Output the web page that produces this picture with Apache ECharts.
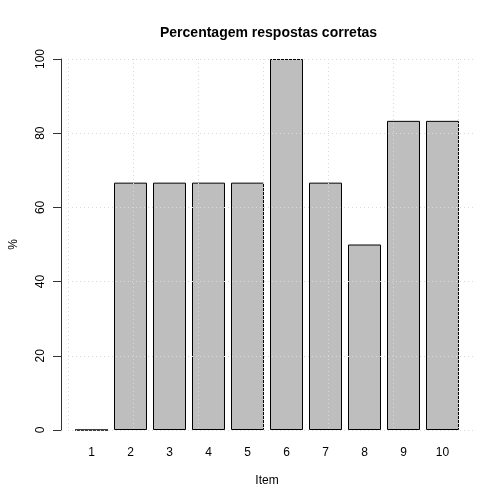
<!DOCTYPE html>
<html>
<head>
<meta charset="utf-8">
<script src="https://cdn.jsdelivr.net/npm/echarts@6/dist/echarts.min.js"></script>
<style>html,body{margin:0;padding:0;background:#fff}#c{width:504px;height:504px}</style>
</head>
<body>
<div id="c"></div>
<script>
const categories = ['1','2','3','4','5','6','7','8','9','10'];
const values = [0, 66.67, 66.67, 66.67, 66.67, 100, 66.67, 50, 83.33, 83.33];
const yTicks = [0, 20, 40, 60, 80, 100];
const titleText = 'Percentagem respostas corretas';
const xTitle = 'Item';
const yTitle = '%';

const FONT = 'Liberation Sans, Arial, Helvetica, sans-serif';
const chart = echarts.init(document.getElementById('c'), null, {renderer: 'canvas'});
const gridStyle = {show: true, lineStyle: {color: '#d9d9d9', type: [1, 3], width: 1}};

chart.setOption({
  animation: false,
  backgroundColor: '#fff',
  title: {
    text: titleText, left: 155, top: 21,
    textStyle: {fontFamily: FONT, fontSize: 14, fontWeight: 'bold', color: '#000'}
  },
  grid: [
    {left: 70, right: 42, top: 59, bottom: 74},
    {left: 68, right: 30, top: 59, bottom: 74}
  ],
  xAxis: [
    {
      type: 'category', data: categories, gridIndex: 0,
      axisLine: {show: false}, axisTick: {show: false},
      axisLabel: {fontFamily: FONT, fontSize: 12, color: '#000', margin: 17},
      splitLine: {show: false},
      name: xTitle, nameLocation: 'middle', nameGap: 45,
      nameTextStyle: {fontFamily: FONT, fontSize: 12, color: '#000'}
    },
    {
      type: 'value', gridIndex: 1, min: 0, max: 12.5, interval: 2, z: 5,
      axisLine: {show: false}, axisTick: {show: false}, axisLabel: {show: false},
      splitLine: Object.assign({showMinLine: true, showMaxLine: false}, gridStyle)
    }
  ],
  yAxis: [
    {
      type: 'value', gridIndex: 0, min: 0, max: 100, interval: 20, offset: 11,
      axisLine: {show: true, lineStyle: {color: '#333', width: 1}},
      axisTick: {show: true, length: 8, lineStyle: {color: '#333'}},
      axisLabel: {fontFamily: FONT, fontSize: 12, color: '#000', rotate: 90, margin: 14,
        formatter: v => yTicks.includes(v) ? String(v) : ''},
      splitLine: {show: false},
      name: yTitle, nameLocation: 'middle', nameGap: 41, nameRotate: 90,
      nameTextStyle: {fontFamily: FONT, fontSize: 12, color: '#000'}
    },
    {
      type: 'value', gridIndex: 1, min: 0, max: 100, interval: 20, z: 5,
      axisLine: {show: false}, axisTick: {show: false}, axisLabel: {show: false},
      splitLine: gridStyle
    }
  ],
  series: [{
    type: 'bar', xAxisIndex: 0, yAxisIndex: 0, data: values,
    barCategoryGap: '15.4%',
    itemStyle: {color: '#bebebe', borderColor: '#000', borderWidth: 1},
    z: 2
  }]
});
</script>
</body>
</html>
